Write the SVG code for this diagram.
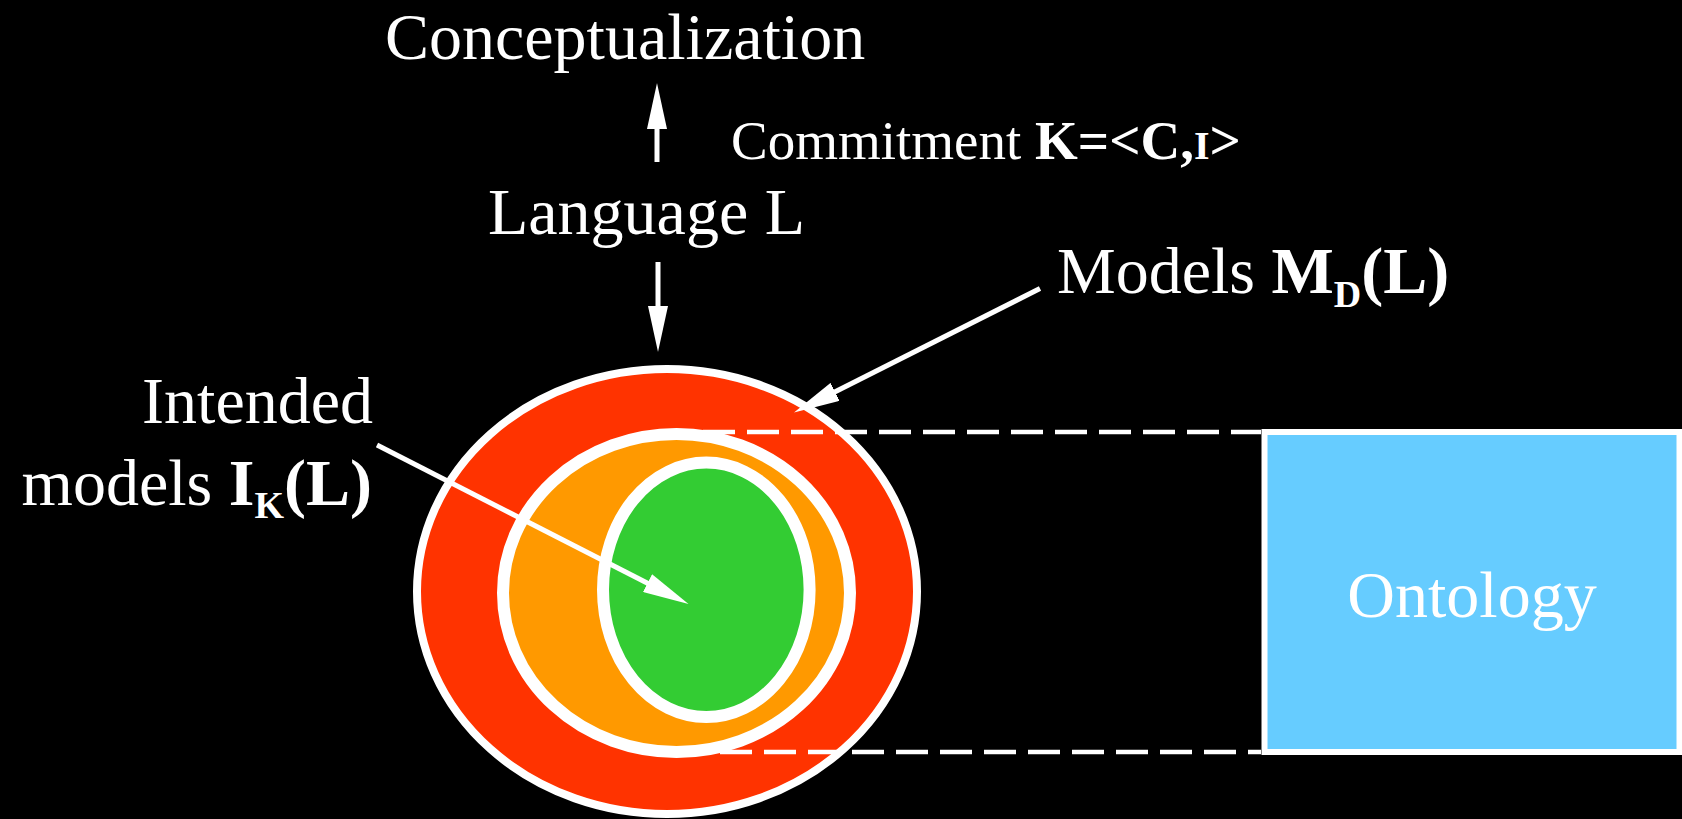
<svg xmlns="http://www.w3.org/2000/svg" width="1682" height="819" viewBox="0 0 1682 819">
  <defs>
    <style>
      .txt { font-family: "Liberation Serif", "Times New Roman", serif; fill: #ffffff; }
      .big { font-size: 66px; }
      .mid { font-size: 55px; }
      .b { font-weight: bold; }
      .ring { stroke: #ffffff; }
      .conn { stroke: #ffffff; stroke-width: 5; fill: none; }
      .dash { stroke: #ffffff; stroke-width: 4.5; stroke-dasharray: 32 12; fill: none; }
    </style>
    <!-- slender solid arrowhead, tip sits 30px past the line end -->
    <marker id="head" markerUnits="userSpaceOnUse" viewBox="0 0 46 20" markerWidth="46" markerHeight="20" refX="16" refY="10" orient="auto">
      <path d="M0,0 L46,10 L0,20 Z" fill="#ffffff"/>
    </marker>
  </defs>

  <rect x="0" y="0" width="1682" height="819" fill="#000000"/>

  <!-- nested model sets -->
  <g id="models-all">
    <ellipse class="ring" cx="667" cy="591.5" rx="250" ry="222.5" fill="#ff3300" stroke-width="8"/>
  </g>
  <g id="models-middle">
    <ellipse class="ring" cx="676.5" cy="593" rx="173.5" ry="159" fill="#ff9900" stroke-width="12"/>
  </g>
  <g id="models-intended">
    <ellipse class="ring" cx="706.3" cy="589.8" rx="103.3" ry="127.2" fill="#33cc33" stroke-width="12"/>
  </g>

  <!-- ontology box -->
  <g id="ontology">
    <rect x="1264.5" y="432" width="415" height="320" fill="#66ccff" stroke="#ffffff" stroke-width="6"/>
    <text class="txt big" x="1472" y="617" text-anchor="middle">Ontology</text>
  </g>

  <!-- labels -->
  <g id="conceptualization">
    <text class="txt big" x="385" y="59">Conceptualization</text>
  </g>
  <g id="commitment">
    <text class="txt mid" x="731" y="159">Commitment <tspan class="b">K=&lt;C,</tspan><tspan class="b" font-size="40">I</tspan><tspan class="b">&gt;</tspan></text>
  </g>
  <g id="language">
    <text class="txt big" x="488" y="234">Language L</text>
  </g>
  <g id="models-label">
    <text class="txt big" x="1057" y="293">Models <tspan class="b">M</tspan><tspan class="b" font-size="38" dy="14">D</tspan><tspan class="b" dy="-14">(L)</tspan></text>
  </g>
  <g id="intended-label">
    <text class="txt big" x="373" y="423" text-anchor="end">Intended</text>
    <text class="txt big" x="372" y="505" text-anchor="end">models <tspan class="b">I</tspan><tspan class="b" font-size="38" dy="13">K</tspan><tspan class="b" dy="-13">(L)</tspan></text>
  </g>

  <!-- connectors -->
  <g id="connectors">
    <line class="dash" x1="703" y1="432" x2="1261" y2="432"/>
    <line class="dash" x1="720" y1="752" x2="1261" y2="752"/>
    <line class="conn" x1="657" y1="162" x2="657" y2="113" marker-end="url(#head)"/>
    <line class="conn" x1="658" y1="262" x2="658" y2="322" marker-end="url(#head)"/>
    <line class="conn" x1="1040" y1="288.5" x2="820.8" y2="399" marker-end="url(#head)"/>
    <line class="conn" x1="377" y1="445" x2="661.8" y2="590.4" marker-end="url(#head)"/>
  </g>
</svg>
